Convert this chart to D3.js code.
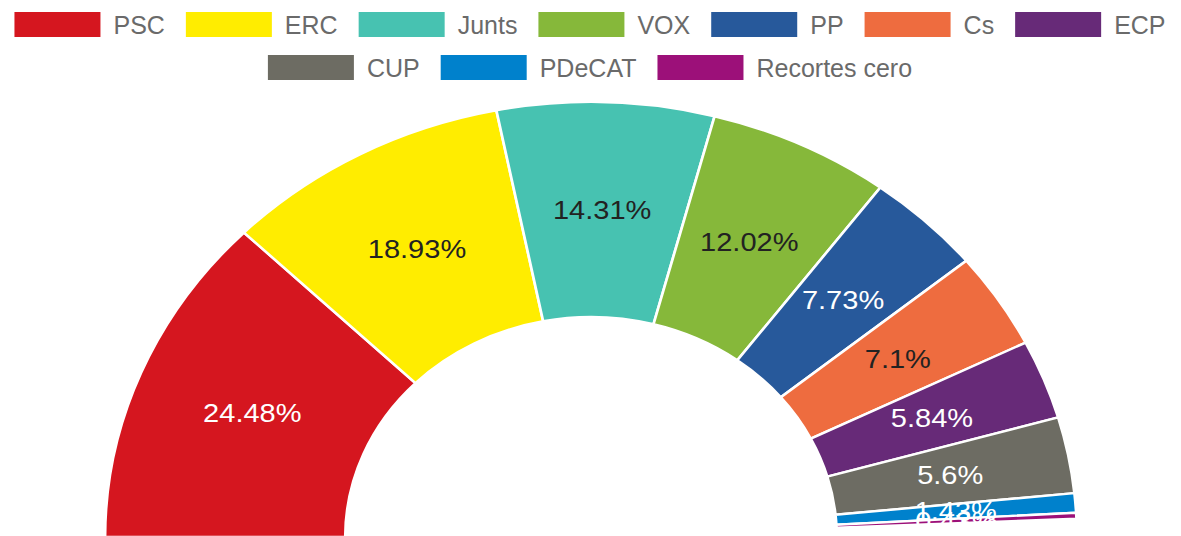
<!DOCTYPE html>
<html>
<head>
<meta charset="utf-8">
<script src="https://cdn.jsdelivr.net/npm/d3@7"></script>
<style>
  html, body { margin: 0; padding: 0; background: #ffffff; }
  svg { display: block; }
</style>
</head>
<body>
<svg id="chart" width="1181" height="536"></svg>
<script>
// ---- data ----
const parties = ["PSC", "ERC", "Junts", "VOX", "PP", "Cs", "ECP", "CUP", "PDeCAT", "Recortes cero"];
const shares  = [24.48, 18.93, 14.31, 12.02, 7.73, 7.1, 5.84, 5.6, 1.43, 0.43];
const colors  = ["#d5161f", "#ffed00", "#47c2b1", "#86b83a", "#27599b", "#ee6c3f", "#672a78", "#6d6c63", "#0081cc", "#9c1079"];
const labelColors = ["#ffffff", "#222222", "#222222", "#222222", "#ffffff", "#222222", "#ffffff", "#ffffff", "#ffffff", "#ffffff"];

// ---- layout ----
const W = 1181, H = 536;
const cx = 591, cy = 537;
const outerR = 435, innerR = 220;
const sx = 1.117;            // horizontal stretch of the half-donut
const angleTotal = 99.2;     // percentage that spans the half circle

const svg = d3.select("#chart");

const angle = d3.scaleLinear().domain([0, angleTotal]).range([-Math.PI / 2, Math.PI / 2]);

let cum = 0;
const slices = shares.map((v, i) => {
  const s = { name: parties[i], value: v, color: colors[i], lc: labelColors[i],
              startAngle: angle(cum), endAngle: angle(cum + v) };
  cum += v;
  return s;
});

const arc = d3.arc().innerRadius(innerR).outerRadius(outerR);

const g = svg.append("g").attr("transform", `translate(${cx},${cy}) scale(${sx},1)`);
g.selectAll("path.slice")
  .data(slices)
  .join("path")
  .attr("class", "slice")
  .attr("d", arc)
  .attr("fill", d => d.color)
  .attr("stroke", "#ffffff")
  .attr("stroke-width", 2.4)
  .attr("stroke-linejoin", "round");

// labels (stretched like the donut)
g.selectAll("text.lbl")
  .data(slices)
  .join("text")
  .attr("class", "lbl")
  .attr("x", d => arc.centroid(d)[0])
  .attr("y", d => arc.centroid(d)[1])
  .attr("text-anchor", "middle")
  .attr("dominant-baseline", "central")
  .attr("font-family", "'Liberation Sans', Arial, sans-serif")
  .attr("font-size", 26)
  .attr("fill", d => d.lc)
  .text(d => d.value + "%");

// ---- legend ----
const legend = svg.append("g").attr("class", "legend");
const swW = 86, swH = 25, txtGap = 13, itemGap = 21, maxW = 1170;
const rowY = [24.5, 67.5];
const items = legend.selectAll("g.item").data(slices).join("g").attr("class", "item");
items.append("rect").attr("width", swW).attr("height", swH).attr("y", -swH / 2)
  .attr("fill", d => d.color);
items.append("text")
  .attr("x", swW + txtGap)
  .attr("dominant-baseline", "central")
  .attr("font-family", "'Liberation Sans', Arial, sans-serif")
  .attr("font-size", 25)
  .attr("fill", "#6a6a6a")
  .text(d => d.name);

// wrap into rows and centre each row
const widths = [];
items.each(function () {
  widths.push(swW + txtGap + d3.select(this).select("text").node().getComputedTextLength());
});
const rows = [[]];
let rw = 0;
widths.forEach((w, i) => {
  const add = (rows[rows.length - 1].length ? itemGap : 0) + w;
  if (rw + add > maxW && rows[rows.length - 1].length) { rows.push([i]); rw = w; }
  else { rows[rows.length - 1].push(i); rw += add; }
});
rows.forEach((r, ri) => {
  const total = r.reduce((a, i) => a + widths[i], 0) + itemGap * (r.length - 1);
  let x = 590 - total / 2;
  const y = rowY[ri] !== undefined ? rowY[ri] : rowY[0] + ri * 43;
  r.forEach(i => {
    d3.select(items.nodes()[i]).attr("transform", `translate(${x},${y})`);
    x += widths[i] + itemGap;
  });
});
</script>
</body>
</html>
